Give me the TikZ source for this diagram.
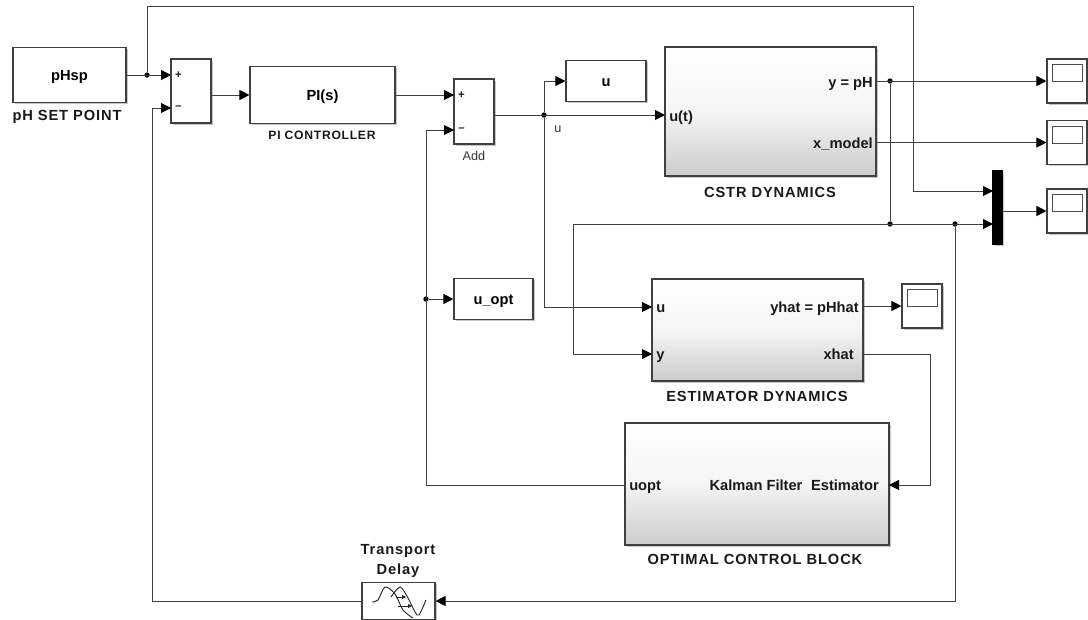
\documentclass[tikz,border=0pt]{standalone}
\usepackage{fontspec}
\setmainfont{Liberation Sans}
\newfontfamily\widefont[LetterSpace=6]{Liberation Sans}
\usetikzlibrary{arrows.meta,shadows}

\tikzset{
  sized/.style 2 args={minimum width=#1*0.75pt, minimum height=#2*0.75pt},
  block/.style={draw=black!75, line width=0.85pt, fill=white, inner sep=0pt, text height=8pt, text depth=0pt,
    font=\fontsize{11}{13}\selectfont\bfseries, drop shadow={shadow xshift=1.2pt, shadow yshift=-1.4pt, opacity=0.45}},
  shaded block/.style={block, top color=white, bottom color=black!20, middle color=black!4},
  screen/.style={draw=black!70, line width=0.75pt, fill=white, inner sep=0pt, minimum width=22.5pt, minimum height=12.75pt},
  caption/.style={font=\fontsize{11}{15}\selectfont\widefont\bfseries, text=black!90, inner sep=0pt, yshift=-0.5pt},
  port/.style={font=\fontsize{11}{13}\selectfont\bfseries, text=black!90, inner sep=0pt, text height=8pt, text depth=0pt},
  sign/.style={font=\fontsize{8.5}{10}\selectfont\bfseries, text=black!90, inner sep=0pt},
  thin label/.style={font=\fontsize{9.5}{11}\selectfont, text=black!80, inner sep=0pt},
  wire/.style={draw=black!75, line width=0.7pt},
  signal/.style={wire, -{Triangle[length=7.5pt,width=7.5pt,color=black]}},
  joint/.style={circle, fill=black, inner sep=0pt, minimum size=4pt},
  icon/.style={draw=black!85, line width=0.7pt},
}

\begin{document}
\begin{tikzpicture}[x=0.75pt, y=-0.75pt]
\useasboundingbox (0,0) rectangle (1088,619);

% blocks
\node [block, sized={113}{55}] (pHsp) at (69.5,75) {pHsp};
\node [block, sized={40}{64}] (sumA) at (191,91) {};
\node [block, sized={145}{57}] (picontroller) at (322.5,95) {PI(s)};
\node [block, sized={40}{65}] (add) at (474,111.5) {};
\node [block, sized={80}{41}] (ublock) at (606,81) {u};
\node [shaded block, sized={211}{129}] (cstr) at (770.5,111.5) {};
\node [block, sized={79}{41}] (uopt) at (493.5,299) {u\_opt};
\node [shaded block, sized={211}{102}] (estimator) at (757.5,330) {};
\node [shaded block, sized={264}{122}] (optimal) at (757,484) {};
\node [block, fill=black, draw=black, sized={9}{73}] (mux) at (997.5,207.5) {};
\node [block, sized={73}{37}] (delay) at (398.5,601) {};

% scopes
\foreach \scopename/\sx/\sy in {scopeA/1067/81, scopeB/1067/142.5, scopeC/1067/211, scopeD/922/306}{
  \node [block, sized={40}{44}] (\scopename) at (\sx,\sy) {};
  \node [screen] (\scopename screen) at (\sx,\sy-8) {};
}

% delay icon
\draw [icon] plot [smooth] coordinates {(372,602) (378,600) (385,587) (395,594) (403,610) (413,618)};
\draw [icon] plot [smooth] coordinates {(391,597) (400,587) (408,598) (415,612) (419,615) (426,600)};
\draw [icon, line width=0.6pt, -{Triangle[length=3pt,width=3pt]}] (396,597) -- (406,597);
\draw [icon, line width=0.6pt, -{Triangle[length=3pt,width=3pt]}] (398,606) -- (412,606);

% labels
\node [caption] (pHsplabel) at (67,116) {pH SET POINT};
\node [caption, font=\fontsize{9.1}{12}\selectfont\widefont\bfseries] (pilabel) at (322,135) {PI CONTROLLER};
\node [thin label] (addlabel) at (474,156) {Add};
\node [thin label] (ulabel) at (558,129) {u};
\node [caption] (cstrlabel) at (770,192) {CSTR DYNAMICS};
\node [caption] (estimatorlabel) at (757,396) {ESTIMATOR DYNAMICS};
\node [caption] (optimallabel) at (755,559) {OPTIMAL CONTROL BLOCK};
\node [caption, align=center] (delaylabel) at (398,560) {Transport\\Delay};

% ports
\node [sign] (sumplus) at (178.5,75) {+};
\node [sign] (summinus) at (178.5,108) {--};
\node [sign] (addplus) at (461.5,95) {+};
\node [sign] (addminus) at (461.5,130) {--};
\node [port, anchor=west] (cstrin) at (669,116) {u(t)};
\node [port, anchor=east] (cstry) at (873,82) {y = pH};
\node [port, anchor=east] (cstrx) at (873,143) {x\_model};
\node [port, anchor=west] (estu) at (656,307) {u};
\node [port, anchor=west] (esty) at (656,354) {y};
\node [port, anchor=east] (estyhat) at (859,307) {yhat = pHhat};
\node [port, anchor=east] (estxhat) at (854,354) {xhat};
\node [port, anchor=west] (optu) at (629,485) {uopt};
\node [port] (optk) at (756,485) {Kalman Filter};
\node [port, anchor=east] (opte) at (879,485) {Estimator};

% junctions and bends
\node [joint] (jref) at (147,75) {};
\node [joint] (jadd) at (544,115) {};
\node [joint] (jopt) at (426,299) {};
\node [joint] (jy) at (890,81) {};
\node [joint] (jfb) at (890,224) {};
\node [joint] (jback) at (955,224) {};
\coordinate (sumAin) at (171,75);
\coordinate (sumAneg) at (171,108);
\coordinate (addin) at (454,95);
\coordinate (addneg) at (454,130);
\coordinate (cstru) at (665,115);
\coordinate (cstrout) at (876,81);
\coordinate (cstrxout) at (876,142.5);
\coordinate (muxa) at (993,191);
\coordinate (muxb) at (993,224);
\coordinate (estin) at (652,307);
\coordinate (estyin) at (652,354);
\coordinate (estout) at (863,306);
\coordinate (estxout) at (863,354);
\coordinate (optin) at (889,485);
\coordinate (optout) at (625,485);
\coordinate (ybend) at (573,224);

% wires
\draw [signal] (pHsp.east) -- (sumAin);
\draw [wire] (jref) -- (147,6) -- (913,6) -- (913,191);
\draw [signal] (913,191) -- (muxa);
\draw [signal] (sumA.east |- picontroller.west) -- (picontroller.west);
\draw [signal] (picontroller.east) -- (addin);
\draw [signal] (add.east |- cstru) -- (cstru);
\draw [signal] (jadd) |- (ublock.west);
\draw [signal] (jadd) |- (estin);
\draw [signal] (optout) -| (426,130) -- (addneg);
\draw [signal] (jopt) -- (uopt.west);
\draw [signal] (cstrout) -- (scopeA.west);
\draw [signal] (cstrxout) -- (scopeB.west);
\draw [wire] (jy) -- (jfb);
\draw [signal] (ybend) -- (muxb);
\draw [signal] (ybend) |- (estyin);
\draw [signal] (mux.east |- scopeC.west) -- (scopeC.west);
\draw [signal] (estout) -- (scopeD.west);
\draw [signal] (estxout) -| (930,485) -- (optin);
\draw [signal] (jback) |- (delay.east);
\draw [signal] (delay.west) -| (152,108) -- (sumAneg);
\end{tikzpicture}
\end{document}
